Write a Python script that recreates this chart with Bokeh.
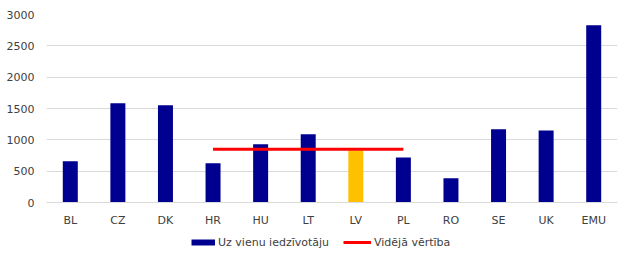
from bokeh.plotting import figure
from bokeh.layouts import column
from bokeh.models import Legend, LegendItem, FactorRange, Range1d, SingleIntervalTicker
from bokeh.embed import file_html
from bokeh.resources import INLINE

categories = ["BL", "CZ", "DK", "HR", "HU", "LT", "LV", "PL", "RO", "SE", "UK", "EMU"]
per_capita = [660, 1585, 1550, 625, 930, 1090, 830, 720, 385, 1170, 1150, 2830]
highlight = "LV"
avg_span = ["HR", "PL"]
avg_value = 848
legend_labels = ["Uz vienu iedzīvotāju", "Vidējā vērtība"]

BLUE = "#000090"
GOLD = "#FFC000"
RED = "#FF0000"
TEXT = "#404040"
GRID = "#D9D9D9"
FONT = "DejaVu Sans"
FS = "11px"

colors = [GOLD if c == highlight else BLUE for c in categories]

p = figure(width=631, height=234, x_range=FactorRange(*categories, range_padding=0),
           y_range=Range1d(0, 3000), output_backend="svg", toolbar_location=None,
           min_border_left=46, min_border_right=14, min_border_top=14, min_border_bottom=32)
p.outline_line_color = None
p.background_fill_color = "white"
p.border_fill_color = "white"

p.vbar(x=categories, top=per_capita, width=0.315, fill_color=colors, line_color=None)
p.line(x=avg_span, y=[avg_value, avg_value], line_color=RED, line_width=3)

p.xgrid.grid_line_color = None
p.ygrid.grid_line_color = GRID
p.ygrid.grid_line_width = 1
p.yaxis.ticker = SingleIntervalTicker(interval=500)

for ax in (p.xaxis[0], p.yaxis[0]):
    ax.major_tick_line_color = None
    ax.minor_tick_line_color = None
    ax.major_label_text_font = FONT
    ax.major_label_text_font_size = FS
    ax.major_label_text_color = TEXT
p.yaxis.axis_line_color = None
p.yaxis.major_label_standoff = 6
p.xaxis.axis_line_color = GRID
p.xaxis.major_label_standoff = 5

# legend strip
q = figure(width=631, height=30, x_range=Range1d(0, 1), y_range=Range1d(0, 1),
           output_backend="svg", toolbar_location=None, x_axis_type=None, y_axis_type=None,
           min_border=0)
q.outline_line_color = None
q.xgrid.grid_line_color = None
q.ygrid.grid_line_color = None
nan = float("nan")
bar_proxy = q.line(x=[nan], y=[nan], line_color=BLUE, line_width=6)
avg_proxy = q.line(x=[nan], y=[nan], line_color=RED, line_width=3)


def make_legend(label, rend, x, gw):
    lg = Legend(items=[LegendItem(label=label, renderers=[rend])], location=(x, 15),
                orientation="horizontal", glyph_width=gw, glyph_height=14, label_height=14,
                label_standoff=3, padding=0, margin=0, spacing=0,
                border_line_color=None, background_fill_alpha=0,
                label_text_font=FONT, label_text_font_size=FS, label_text_color=TEXT)
    q.add_layout(lg, "center")


make_legend(legend_labels[0], bar_proxy, 191 - 46, 24)
make_legend(legend_labels[1], avg_proxy, 343 - 46, 28)

open("out.html", "w").write(file_html(column(p, q, spacing=0), INLINE))
